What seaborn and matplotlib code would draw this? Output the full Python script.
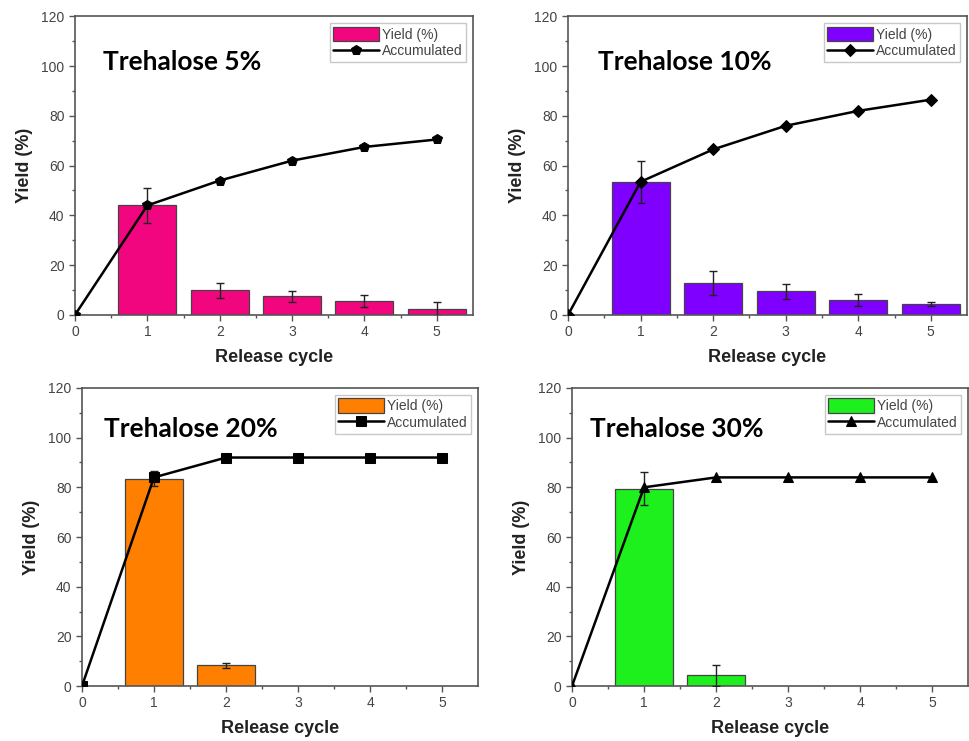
import matplotlib
matplotlib.use("Agg")
import matplotlib.pyplot as plt
import seaborn as sns
import numpy as np
import pandas as pd

# ---- data ----
titles = ["Trehalose 5%", "Trehalose 10%", "Trehalose 20%", "Trehalose 30%"]
bar_colors = ["#F2067F", "#7F00FF", "#FF8000", "#1EF01E"]
markers = ["p", "D", "s", "^"]
marker_sizes = [7.5, 6, 6.5, 7.5]

cycles_5 = [1, 2, 3, 4, 5]
yield_5 = [44.0, 10.0, 7.5, 5.5, 2.5]
err_5 = [7.0, 3.0, 2.3, 2.5, 2.8]
acc_x_5 = [0, 1, 2, 3, 4, 5]
acc_5 = [0.0, 44.0, 54.0, 62.0, 67.5, 70.5]

cycles_10 = [1, 2, 3, 4, 5]
yield_10 = [53.5, 13.0, 9.5, 6.0, 4.3]
err_10 = [8.5, 4.8, 3.0, 2.3, 0.8]
acc_x_10 = [0, 1, 2, 3, 4, 5]
acc_10 = [0.0, 53.5, 66.5, 76.0, 82.0, 86.5]

cycles_20 = [1, 2]
yield_20 = [83.5, 8.3]
err_20 = [3.0, 1.0]
acc_x_20 = [0, 1, 2, 3, 4, 5]
acc_20 = [0.0, 84.0, 92.0, 92.0, 92.0, 92.0]

cycles_30 = [1, 2]
yield_30 = [79.5, 4.3]
err_30 = [6.5, 4.2]
acc_x_30 = [0, 1, 2, 3, 4, 5]
acc_30 = [0.0, 80.0, 84.0, 84.0, 84.0, 84.0]

x_ticks = [0, 1, 2, 3, 4, 5]
y_ticks = [0, 20, 40, 60, 80, 100, 120]
x_label = "Release cycle"
y_label = "Yield (%)"

panels = [
    (cycles_5, yield_5, err_5, acc_x_5, acc_5),
    (cycles_10, yield_10, err_10, acc_x_10, acc_10),
    (cycles_20, yield_20, err_20, acc_x_20, acc_20),
    (cycles_30, yield_30, err_30, acc_x_30, acc_30),
]

# ---- style ----
sns.set_theme(style="white")
plt.rcParams['font.family'] = ['Liberation Sans', 'DejaVu Sans']

fig = plt.figure(figsize=(9.7, 7.41), dpi=100)
positions = [
    [0.0773, 0.575, 0.4103, 0.403],
    [0.5856, 0.575, 0.4114, 0.403],
    [0.0845, 0.0742, 0.4083, 0.4022],
    [0.5897, 0.0742, 0.4083, 0.4022],
]
text_pos = [(0.07, 0.846), (0.075, 0.846), (0.056, 0.862), (0.045, 0.862)]

for i, (cyc, yv, ev, ax_x, acc) in enumerate(panels):
    ax = fig.add_axes(positions[i])
    df_bar = pd.DataFrame({"cycle": cyc, "yield": yv})
    sns.barplot(data=df_bar, x="cycle", y="yield", native_scale=True, width=0.8,
                color=bar_colors[i], saturation=1, edgecolor="#444444",
                linewidth=0.9, label="Yield (%)", ax=ax, errorbar=None)
    ax.errorbar(cyc, yv, yerr=ev, fmt="none", ecolor="#222222", elinewidth=1,
                capsize=3, capthick=1, zorder=4)
    df_acc = pd.DataFrame({"cycle": ax_x, "acc": acc})
    sns.lineplot(data=df_acc, x="cycle", y="acc", color="black", linewidth=1.8,
                 marker=markers[i], markersize=marker_sizes[i],
                 markeredgecolor="black", markerfacecolor="black",
                 label="Accumulated", ax=ax, zorder=5)
    ax.set_xlim(0, 5.5)
    ax.set_ylim(0, 120)
    ax.set_xticks(x_ticks)
    ax.set_yticks(y_ticks)
    ax.set_xticks(np.arange(0.5, 5.5, 1.0), minor=True)
    ax.set_yticks(np.arange(10, 120, 20), minor=True)
    ax.tick_params(axis="both", which="major", direction="out", length=4, width=1,
                   color="#555555", labelsize=10, labelcolor="#444444",
                   bottom=True, left=True)
    ax.tick_params(axis="both", which="minor", direction="out", length=2.5,
                   width=1, color="#555555", bottom=True, left=True)
    for s in ax.spines.values():
        s.set_color("#555555")
        s.set_linewidth(1.2)
    ax.set_xlabel(x_label, fontsize=13, fontweight="bold", color="#222222", labelpad=7)
    ax.set_ylabel(y_label, fontsize=13, fontweight="bold", color="#222222", labelpad=6)
    ax.text(text_pos[i][0], text_pos[i][1], titles[i], transform=ax.transAxes,
            fontsize=19, fontweight="bold", family=["Lato", "DejaVu Sans"],
            va="center", ha="left", color="black")
    handles, labels = ax.get_legend_handles_labels()
    order = [labels.index("Yield (%)"), labels.index("Accumulated")]
    leg = ax.legend([handles[k] for k in order], [labels[k] for k in order],
                    loc="upper right", fontsize=10, frameon=True, fancybox=False,
                    edgecolor="#BBBBBB", handlelength=3.3, handleheight=1.2,
                    handletextpad=0.2, borderpad=0.25, labelspacing=0.15,
                    borderaxespad=0.5)
    leg.get_frame().set_linewidth(1.0)
    for t in leg.get_texts():
        t.set_color("#444444")

fig.savefig("out.png", dpi=100)
